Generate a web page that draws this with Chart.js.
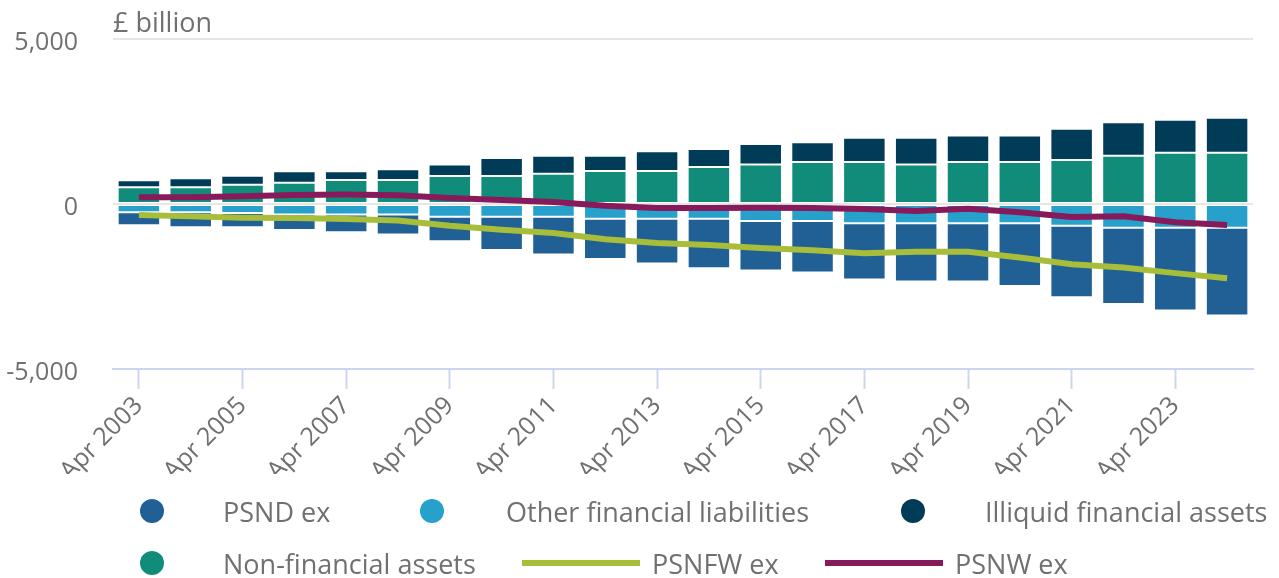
<!DOCTYPE html>
<html>
<head>
<meta charset="utf-8">
<script src="https://cdn.jsdelivr.net/npm/chart.js@4.4.1/dist/chart.umd.min.js"></script>
<style>
  html, body { margin: 0; padding: 0; background: #ffffff; }
  #wrap { position: relative; width: 1279px; height: 578px; font-family: "Open Sans", sans-serif; }
  #chart { position: absolute; left: 0; top: 0; }
  .lg { position: absolute; color: #707070; font-size: 27px; line-height: 1; white-space: nowrap; }
  .lg .dot { position: absolute; width: 24px; height: 24px; border-radius: 50%; }
  .lg .ln { position: absolute; height: 6px; }
  .lg .tx { position: absolute; transform: translateY(-50%); top: 0; }
</style>
</head>
<body>
<div id="wrap">
  <canvas id="chart" width="1279" height="578"></canvas>
  <div id="legend"></div>
</div>
<script>
// ---- data (GBP billion) ----
const categories = ['Apr 2003','Apr 2004','Apr 2005','Apr 2006','Apr 2007','Apr 2008','Apr 2009','Apr 2010','Apr 2011','Apr 2012','Apr 2013','Apr 2014','Apr 2015','Apr 2016','Apr 2017','Apr 2018','Apr 2019','Apr 2020','Apr 2021','Apr 2022','Apr 2023','Apr 2024'];
const psndEx = [-395, -455, -435, -470, -540, -610, -740, -1010, -1145, -1225, -1355, -1500, -1500, -1560, -1710, -1770, -1770, -1905, -2165, -2310, -2510, -2655];
const otherFinancialLiabilities = [-250, -250, -270, -315, -315, -315, -385, -385, -385, -445, -445, -445, -515, -515, -580, -580, -580, -580, -660, -720, -720, -720];
const illiquidFinancialAssets = [210, 270, 275, 345, 265, 325, 345, 545, 545, 465, 600, 545, 620, 600, 730, 810, 800, 800, 950, 1020, 1000, 1065];
const nonFinancialAssets = [510, 510, 580, 645, 730, 730, 850, 850, 920, 1000, 1000, 1125, 1195, 1275, 1275, 1195, 1275, 1275, 1330, 1460, 1550, 1550];
const psnfwEx = [-335, -375, -415, -425, -455, -500, -660, -780, -880, -1065, -1185, -1245, -1330, -1405, -1490, -1450, -1445, -1620, -1825, -1925, -2095, -2250];
const psnwEx = [205, 205, 235, 275, 285, 265, 180, 120, 60, -50, -120, -120, -110, -120, -150, -215, -145, -250, -395, -375, -555, -640];
const yTicks = [-5000, 0, 5000];
const unitLabel = '£ billion';

const TEXT = '#707070';
const FONT = '"Open Sans", sans-serif';

const barStyle = { type: 'bar', borderColor: '#ffffff', borderWidth: 1, borderSkipped: false, barPercentage: 0.82, categoryPercentage: 1, order: 2 };
const datasets = [
  Object.assign({ label: 'Other financial liabilities', data: otherFinancialLiabilities, backgroundColor: '#27a0cc' }, barStyle),
  Object.assign({ label: 'PSND ex', data: psndEx, backgroundColor: '#206095' }, barStyle),
  Object.assign({ label: 'Non-financial assets', data: nonFinancialAssets, backgroundColor: '#118c7b' }, barStyle),
  Object.assign({ label: 'Illiquid financial assets', data: illiquidFinancialAssets, backgroundColor: '#003c57' }, barStyle),
  { type: 'line', label: 'PSNFW ex', data: psnfwEx, borderColor: '#a8bd3a', backgroundColor: '#a8bd3a', borderWidth: 6, pointRadius: 0, tension: 0, order: 1, stack: 'lines1' },
  { type: 'line', label: 'PSNW ex', data: psnwEx, borderColor: '#871a5b', backgroundColor: '#871a5b', borderWidth: 6, pointRadius: 0, tension: 0, order: 0, stack: 'lines2' }
];

const unitTitle = {
  id: 'unitTitle',
  afterDraw(chart) {
    const c = chart.ctx;
    c.save();
    c.font = '27px ' + FONT;
    c.fillStyle = TEXT;
    c.textAlign = 'left';
    c.textBaseline = 'alphabetic';
    c.fillText(unitLabel, chart.chartArea.left, 32);
    c.restore();
  }
};

const chart = new Chart(document.getElementById('chart'), {
  data: { labels: categories, datasets },
  options: {
    responsive: false,
    animation: false,
    layout: { padding: { top: 39, right: 26, bottom: 104, left: 0 } },
    plugins: { legend: { display: false }, tooltip: { enabled: false }, title: { display: false } },
    scales: {
      x: {
        stacked: true,
        offset: true,
        grid: {
          display: true, drawOnChartArea: false, offset: false, drawTicks: true, tickLength: 20,
          tickWidth: 2,
          tickColor: (ctx) => (ctx.index % 2 === 0 ? '#ccd6eb' : 'rgba(0,0,0,0)')
        },
        border: { display: true, color: '#ccd6eb', width: 2 },
        ticks: {
          autoSkip: false, minRotation: 45, maxRotation: 45, padding: 2,
          color: TEXT, font: { family: FONT, size: 25 },
          callback: function (v, i) { return i % 2 === 0 ? this.getLabelForValue(v) : ''; }
        },
        afterFit: (s) => { s.height = 105; }
      },
      y: {
        stacked: true,
        min: yTicks[0], max: yTicks[yTicks.length - 1],
        afterBuildTicks: (s) => { s.ticks = yTicks.map(v => ({ value: v })); },
        grid: {
          drawTicks: false, lineWidth: 2,
          color: (ctx) => (ctx.tick && ctx.tick.value === yTicks[0] ? 'rgba(0,0,0,0)' : '#e6e6e6')
        },
        border: { display: false },
        ticks: {
          padding: 35, labelOffset: 4, color: TEXT, font: { family: FONT, size: 25 },
          callback: (v) => v.toLocaleString('en-GB')
        },
        afterFit: (s) => { s.width = 113; s.paddingTop = 0; s.paddingBottom = 0; }
      }
    }
  },
  plugins: [unitTitle]
});

// ---- legend (HTML, built from the chart datasets) ----
const legendOrder = [
  { label: 'PSND ex', kind: 'dot', sx: 140, ty: 511, tx: 223 },
  { label: 'Other financial liabilities', kind: 'dot', sx: 420, ty: 511, tx: 506 },
  { label: 'Illiquid financial assets', kind: 'dot', sx: 901, ty: 511, tx: 985 },
  { label: 'Non-financial assets', kind: 'dot', sx: 140, ty: 563, tx: 223 },
  { label: 'PSNFW ex', kind: 'line', sx: 522, ty: 563, tx: 652 },
  { label: 'PSNW ex', kind: 'line', sx: 825, ty: 563, tx: 955 }
];
const lg = document.getElementById('legend');
legendOrder.forEach(it => {
  const ds = chart.data.datasets.find(d => d.label === it.label);
  const colour = ds.type === 'line' ? ds.borderColor : ds.backgroundColor;
  const item = document.createElement('div');
  item.className = 'lg';
  item.style.left = '0px';
  item.style.top = it.ty + 'px';
  const sym = document.createElement('div');
  if (it.kind === 'dot') {
    sym.className = 'dot';
    sym.style.left = it.sx + 'px';
    sym.style.top = '-12px';
  } else {
    sym.className = 'ln';
    sym.style.left = it.sx + 'px';
    sym.style.top = '-3px';
    sym.style.width = '118px';
  }
  sym.style.background = colour;
  const tx = document.createElement('span');
  tx.className = 'tx';
  tx.style.left = it.tx + 'px';
  tx.textContent = it.label;
  item.appendChild(sym);
  item.appendChild(tx);
  lg.appendChild(item);
});
</script>
</body>
</html>
